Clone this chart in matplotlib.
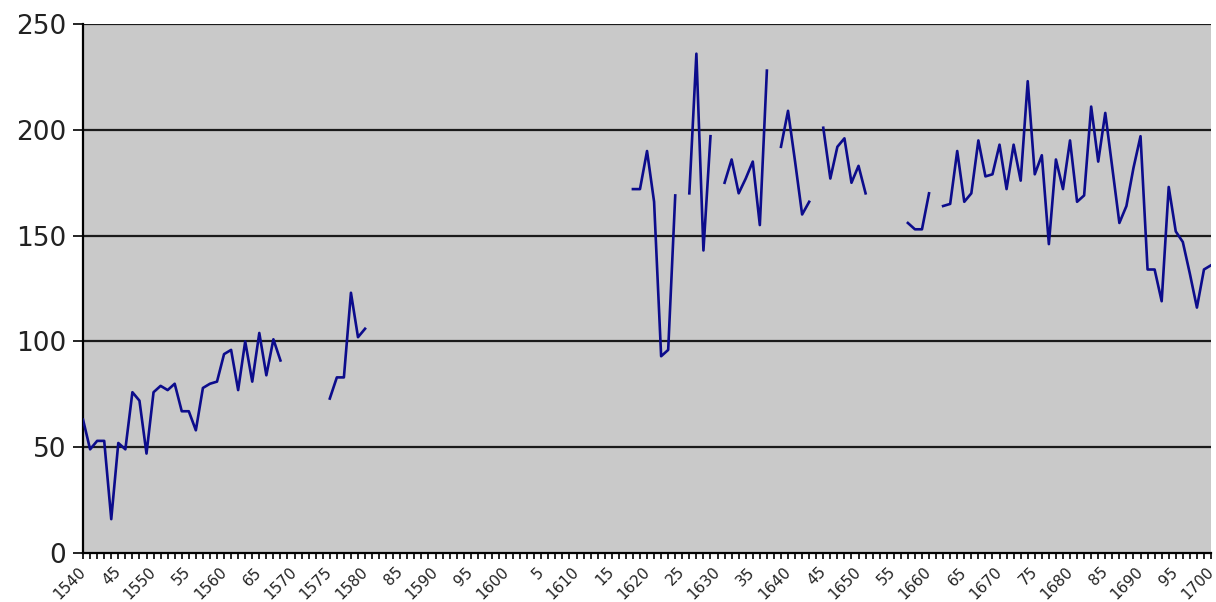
import numpy as np
import matplotlib
matplotlib.use('Agg')
import matplotlib.pyplot as plt

# data segments (start year, yearly values) - gaps between them are missing years
seg1_start = 1540
seg1 = [63, 49, 53, 53, 16, 52, 49, 76, 72, 47, 76, 79, 77, 80, 67, 67, 58, 78, 80, 81,
        94, 96, 77, 100, 81, 104, 84, 101, 91]
seg2_start = 1575
seg2 = [73, 83, 83, 123, 102, 106]
seg3_start = 1618
seg3 = [172, 172, 190, 166, 93, 96, 169]
seg4_start = 1626
seg4 = [170, 236, 143, 197]
seg5_start = 1631
seg5 = [175, 186, 170, 177, 185, 155, 228]
seg6_start = 1639
seg6 = [192, 209, 185, 160, 166]
seg7_start = 1645
seg7 = [201, 177, 192, 196, 175, 183, 170]
seg8_start = 1657
seg8 = [156, 153, 153, 170]
seg9_start = 1662
seg9 = [164, 165, 190, 166, 170, 195, 178, 179, 193, 172, 193, 176, 223, 179, 188, 146,
        186, 172, 195, 166, 169, 211, 185, 208, 182, 156, 164, 182, 197, 134, 134, 119,
        173, 152, 147, 132, 116, 134, 136]

tick_years = list(range(1540, 1701, 5))
tick_labels = ['1540', '45', '1550', '55', '1560', '65', '1570', '1575', '1580', '85',
               '1590', '95', '1600', '5', '1610', '15', '1620', '25', '1630', '35',
               '1640', '45', '1650', '55', '1660', '65', '1670', '75', '1680', '85',
               '1690', '95', '1700']

years = np.arange(1540, 1701)
vals = np.full(len(years), np.nan)
for start, seg in [(seg1_start, seg1), (seg2_start, seg2), (seg3_start, seg3),
                   (seg4_start, seg4), (seg5_start, seg5), (seg6_start, seg6),
                   (seg7_start, seg7), (seg8_start, seg8), (seg9_start, seg9)]:
    i = start - 1540
    vals[i:i + len(seg)] = seg

fig = plt.figure(figsize=(12.16, 6.02), dpi=100)
ax = fig.add_axes([0.0683, 0.0814, 0.9276, 0.8786])
ax.set_facecolor('#c9c9c9')

for g in [50, 100, 150, 200, 250]:
    ax.axhline(g, color='#1a1a1a', lw=1.6, zorder=1)

ax.plot(years, vals, color='#0c0c8c', lw=1.9, zorder=3)

ax.set_xlim(1540, 1700)
ax.set_ylim(0, 250)
ax.set_yticks([0, 50, 100, 150, 200, 250])
ax.set_yticklabels(['0', '50', '100', '150', '200', '250'], fontsize=19, color='#222222')
ax.tick_params(axis='y', length=7, width=1.2, pad=5)

ax.set_xticks(tick_years)
ax.set_xticklabels(tick_labels, rotation=45, ha='right', va='center',
                   rotation_mode='anchor', fontsize=11, color='#222222')
ax.set_xticks(years, minor=True)
ax.tick_params(axis='x', which='both', length=4, width=1.2, direction='out', pad=8)

for s in ['top', 'right']:
    ax.spines[s].set_visible(False)
ax.spines['left'].set_linewidth(1.6)
ax.spines['bottom'].set_linewidth(1.6)

fig.savefig('out.png', dpi=100)
